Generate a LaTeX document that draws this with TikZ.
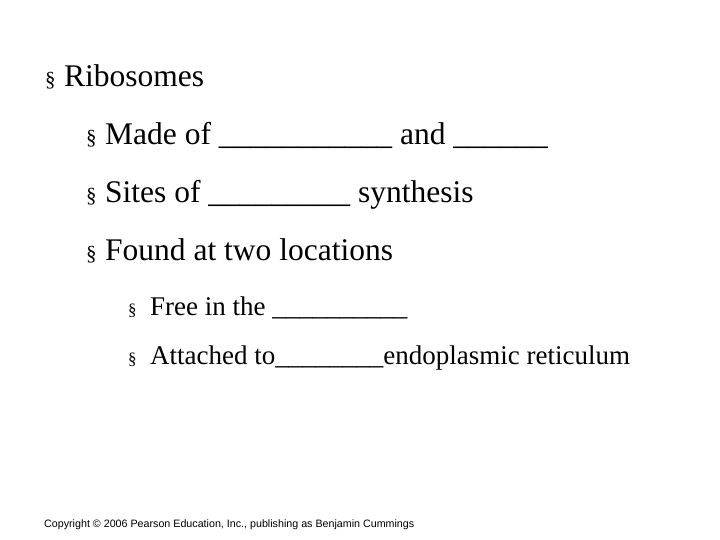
\documentclass[tikz,border=0pt]{standalone}
\usepackage{fontspec}
\setmainfont{Liberation Serif}
\newfontfamily\cpfont{Liberation Sans}
\begin{document}
\begin{tikzpicture}[x=1pt,y=-1pt,
  lone/.style={anchor=base west,inner sep=0pt,font=\fontsize{31.5}{34}\selectfont},
  lthree/.style={anchor=base west,inner sep=0pt,font=\fontsize{27}{30}\selectfont},
  bul/.style={anchor=base west,inner sep=0pt,font=\fontsize{21}{24}\selectfont}]
\useasboundingbox (0,0) rectangle (720,540);
\node[bul] (b1) at (45,87) {§};
\node[lone] (t1) at (64,87) {Ribosomes};
\node[bul] (b2) at (86,145) {§};
\node[lone] (t2) at (105,145) {Made of \_\_\_\_\_\_\_\_\_\_\_ and \_\_\_\_\_\_};
\node[bul] (b3) at (86,203) {§};
\node[lone] (t3) at (105,203) {Sites of \_\_\_\_\_\_\_\_\_ synthesis};
\node[bul] (b4) at (86,260) {§};
\node[lone] (t4) at (105,260) {Found at two locations};
\node[bul,font=\fontsize{17}{20}\selectfont] (b5) at (128,315) {§};
\node[lthree] (t5) at (150,315) {Free in the \_\_\_\_\_\_\_\_\_\_};
\node[bul,font=\fontsize{17}{20}\selectfont] (b6) at (128,364) {§};
\node[lthree] (t6) at (150,364) {Attached to\_\_\_\_\_\_\_\_endoplasmic reticulum};
\node[anchor=base west,inner sep=0pt,font=\cpfont\fontsize{10.7}{12}\selectfont] (cp) at (44,527) {Copyright © 2006 Pearson Education, Inc., publishing as Benjamin Cummings};
\end{tikzpicture}
\end{document}
